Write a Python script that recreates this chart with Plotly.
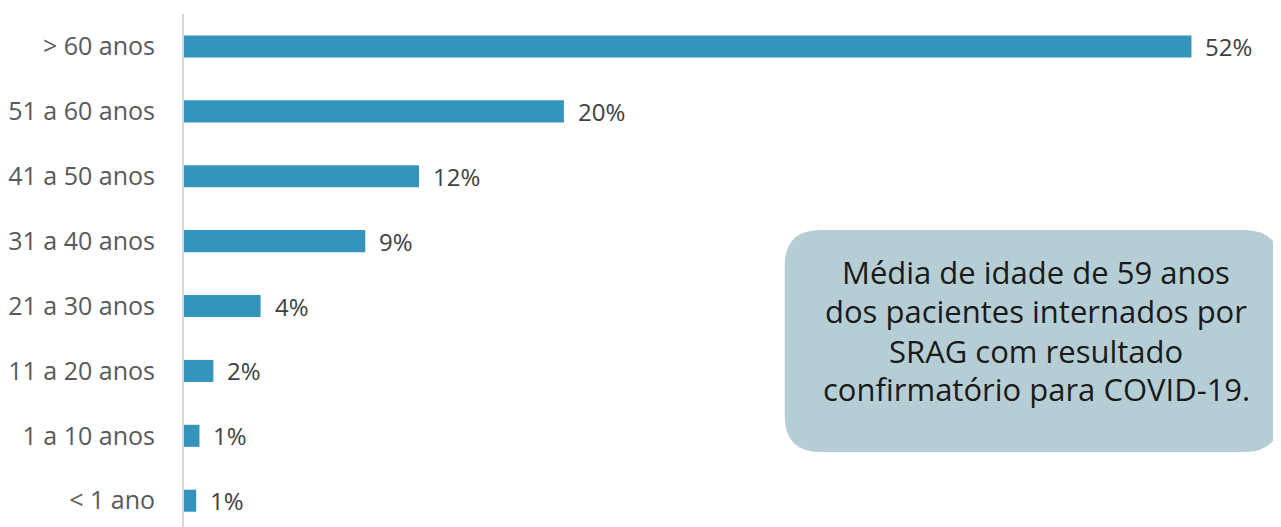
import plotly.graph_objects as go

categories = ["< 1 ano", "1 a 10 anos", "11 a 20 anos", "21 a 30 anos",
              "31 a 40 anos", "41 a 50 anos", "51 a 60 anos", "> 60 anos"]
values = [0.63, 0.8, 1.52, 3.96, 9.37, 12.15, 19.64, 52.08]
labels = ["1%", "1%", "2%", "4%", "9%", "12%", "20%", "52%"]
note_lines = ["Média de idade de 59 anos",
              "dos pacientes internados por",
              "SRAG com resultado",
              "confirmatório para COVID-19."]

OFF = 8  # page body margin
W, H = 1281 - OFF, 527 - OFF
ML, MT = 178 - OFF, 14 - OFF
pw, ph = W - ML, H - MT

fig = go.Figure(go.Bar(
    x=values, y=categories, orientation="h",
    marker=dict(color="#3594bb", line=dict(width=0)),
    width=0.34, hoverinfo="skip"))

for v, c, t in zip(values, categories, labels):
    fig.add_annotation(x=v, y=c, text=t, showarrow=False, xanchor="left",
                       xshift=12, font=dict(family="Open Sans", size=24, color="#404040"))

# rounded box (screen pixel coords -> paper)
def px_to_paper(xp, yp):
    return (xp - OFF - ML) / pw, (H - (yp - OFF)) / ph

bx0, by0, bx1, by1, r = 782, 230, 1280, 452, 36
x0, y0 = px_to_paper(bx0, by0)
x1, y1 = px_to_paper(bx1, by1)
rx, ry = r / pw, r / ph
path = (f"M {x0+rx},{y0} L {x1-rx},{y0} Q {x1},{y0} {x1},{y0-ry} "
        f"L {x1},{y1+ry} Q {x1},{y1} {x1-rx},{y1} L {x0+rx},{y1} "
        f"Q {x0},{y1} {x0},{y1+ry} L {x0},{y0-ry} Q {x0},{y0} {x0+rx},{y0} Z")
fig.add_shape(type="path", path=path, xref="paper", yref="paper",
              fillcolor="#b5ced5", line=dict(width=0), layer="below")

line_y = [272, 311, 351, 389]
for txt, ly in zip(note_lines, line_y):
    xp, yp = px_to_paper(1035, ly)
    fig.add_annotation(x=xp, y=yp, xref="paper", yref="paper", text=txt,
                       showarrow=False, xanchor="center", yanchor="middle",
                       font=dict(family="Open Sans", size=31, color="#1a1a1a"))

fig.update_layout(
    width=W, height=H, margin=dict(l=ML, r=0, t=MT, b=0, pad=0),
    paper_bgcolor="white", plot_bgcolor="white", showlegend=False,
    xaxis=dict(range=[0, pw / 19.45], visible=False, fixedrange=True),
    yaxis=dict(categoryorder="array", categoryarray=categories,
               range=[-0.405, 7.5], showline=True, linecolor="#d9d9d9",
               linewidth=2, showgrid=False, ticks="", ticklabelstandoff=22,
               tickfont=dict(family="Open Sans", size=25, color="#595959")),
)

fig.write_html("out.html")
